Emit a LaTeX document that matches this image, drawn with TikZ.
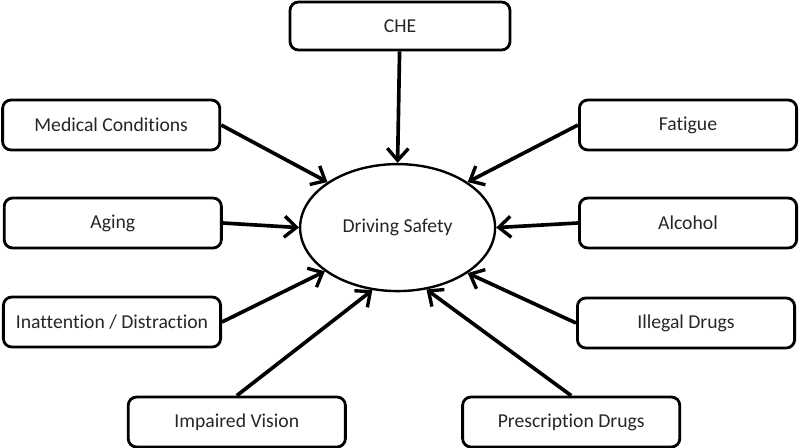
\documentclass[tikz,border=0pt]{standalone}
\usepackage{fontspec}
\setmainfont[Ligatures=CommonOff]{Carlito}
\usetikzlibrary{shapes.geometric,arrows.meta}
\tikzset{
  factor/.style={draw,rounded corners=6pt,line width=2pt,minimum width=5.43cm,minimum height=1.25cm,
    font=\fontsize{14}{16}\selectfont,text=black!85},
  effect/.style={-{Straight Barb[length=8.5pt,width=15pt,line width=2.4pt]},line width=2.6pt}
}
\begin{document}
\begin{tikzpicture}
\useasboundingbox (0,0) rectangle (20,-11.2);
%CENTRE
  \node (ds) at (9.94,-5.69) [draw,ellipse,line width=1.7pt,inner sep=0pt,minimum width=4.875cm,minimum height=3.175cm,
    font=\fontsize{14}{16}\selectfont,text=black!85] {Driving Safety};

%LEFT
  \node (med) at (2.78,-3.125) [factor] {Medical Conditions};
  \node (age) at (2.82,-5.575) [factor] {Aging};
  \node (inat) at (2.8,-8.05) [factor] {Inattention / Distraction};
  \node (vis) at (5.92,-10.55) [factor] {Impaired Vision};

%RIGHT
  \node (che) at (10,-0.65) [factor,minimum width=5.5cm,minimum height=1.2cm] {CHE};
  \node (fat) at (17.2,-3.125) [factor] {Fatigue};
  \node (alc) at (17.2,-5.575) [factor] {Alcohol};
  \node (ill) at (17.15,-8.075) [factor] {Illegal Drugs};
  \node (pre) at (14.28,-10.55) [factor] {Prescription Drugs};

%ARROWS
  \draw[effect] (che) -- (ds.90);
  \draw[effect] (med.east) -- (ds.147);
  \draw[effect] (age.east) -- (ds.180);
  \draw[effect] (inat.east) -- (ds.211);
  \draw[effect] (vis.north) -- (ds.248);
  \draw[effect] (fat.west) -- (ds.33);
  \draw[effect] (alc.west) -- (ds.0);
  \draw[effect] (ill.west) -- (ds.327);
  \draw[effect] (pre.north) -- (ds.295);
\end{tikzpicture}
\end{document}
